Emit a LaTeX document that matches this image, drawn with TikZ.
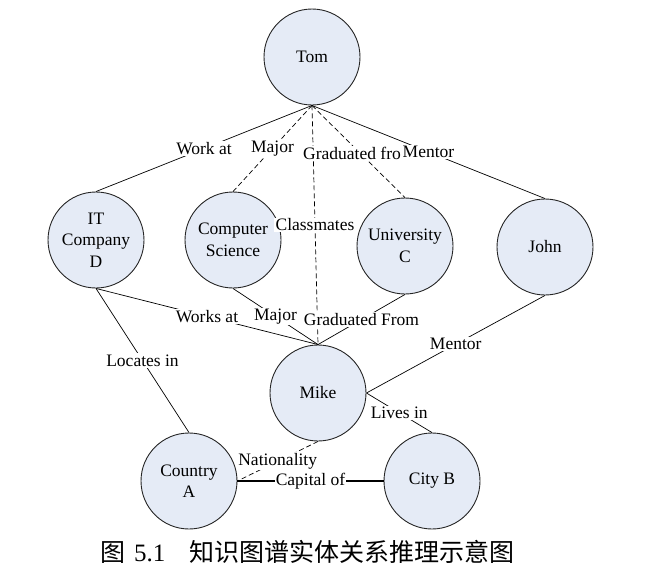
\documentclass[tikz,border=0pt]{standalone}
\usepackage{fontspec}
\setmainfont{Liberation Serif}
\newfontfamily\cjk{Noto Sans CJK SC}
\definecolor{nodefill}{RGB}{229,235,246}
\begin{document}
\begin{tikzpicture}[x=1pt,y=-1pt,
  ent/.style={circle,draw=black!85,line width=0.9pt,fill=nodefill,minimum size=96pt,inner sep=0pt,align=center,font=\fontsize{17.5}{21.5}\selectfont},
  lbl/.style={fill=white,inner sep=1.2pt,font=\fontsize{17.5}{20}\selectfont},
  rel/.style={line width=0.7pt},
  dsh/.style={line width=0.7pt,dash pattern=on 5pt off 3pt},
  heavy/.style={line width=1.8pt}]
\useasboundingbox (0,0) rectangle (646,573);
% entities
\node[ent] (tom)  at (312,57)  {Tom};
\node[ent] (itd)  at (96,240)  {IT\\Company\\D};
\node[ent] (cs)   at (233,240) {Computer\\Science};
\node[ent] (uc)   at (405,246) {University\\C};
\node[ent] (john) at (545,247) {John};
\node[ent] (mike) at (318,393) {Mike};
\node[ent] (ca)   at (189,481) {Country\\A};
\node[ent] (cb)   at (432,481) {City B};
% relations from Tom
\draw[rel] (tom.south) -- (itd.north) node[lbl,midway] (l1) {Work at};
\draw[dsh] (tom.south) -- (cs.north) node[lbl,midway] (l2) {Major};
\draw[dsh] (tom.south) -- (mike.north) node[lbl,midway] (l3) {Classmates};
\draw[dsh] (tom.south) -- (uc.north) node[lbl,midway,xshift=-6.5pt,yshift=-1.5pt] (l4) {Graduated fro};
\draw[rel] (tom.south) -- (john.north) node[lbl,midway] (l5) {Mentor};
% relations to Mike
\draw[rel] (itd.south) -- (mike.north) node[lbl,midway] (l6) {Works at};
\draw[rel] (cs.south) -- (mike.north) node[lbl,midway] (l7) {Major};
\draw[rel] (uc.south) -- (mike.north) node[lbl,midway] (l8) {Graduated From};
\draw[rel] (john.south) -- (mike.east) node[lbl,midway] (l9) {Mentor};
% others
\draw[rel] (itd.south) -- (ca.north) node[lbl,midway] (l10) {Locates in};
\draw[rel] (mike.east) -- (cb.north) node[lbl,midway] (l11) {Lives in};
\draw[dsh] (mike.south) -- (ca.east) node[lbl,midway] (l12) {Nationality};
\draw[heavy] (ca.east) -- (cb.west) node[lbl,midway] (l13) {Capital of};
% caption
\node[anchor=base west,inner sep=0pt,font=\cjk\fontsize{25}{25}\selectfont] (capfig) at (100,561) {图};
\node[anchor=base west,inner sep=0pt,font=\fontsize{25}{25}\selectfont] (capnum) at (134,561) {5.1};
\node[anchor=base west,inner sep=0pt,font=\cjk\fontsize{25}{25}\selectfont] (captext) at (189,561) {知识图谱实体关系推理示意图};
\end{tikzpicture}
\end{document}
